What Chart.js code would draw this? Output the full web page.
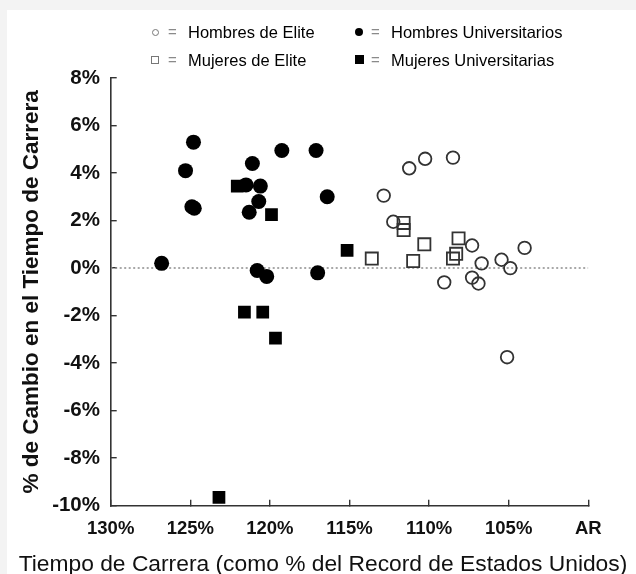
<!DOCTYPE html>
<html lang="es">
<head>
<meta charset="utf-8">
<title>Cambio en el Tiempo de Carrera</title>
<script src="https://cdn.jsdelivr.net/npm/chart.js@4.4.0/dist/chart.umd.min.js"></script>
<style>
  html,body{margin:0;padding:0;background:#f3f3f3;}
  #wrap{position:relative;width:636px;height:574px;overflow:hidden;}
  #panel{position:absolute;left:7px;top:10px;right:0;bottom:0;background:#fff;}
  #chart{position:absolute;left:0;top:0;}
  .lg{position:absolute;font-family:"Liberation Sans",Arial,sans-serif;font-size:16.5px;line-height:20px;color:#000;white-space:nowrap;}
  .eq{color:#8a8a8a;font-size:15px;}
  .mk{position:absolute;box-sizing:border-box;}
  #xtitle{position:absolute;left:0;width:646px;top:550px;text-align:center;font-family:"Liberation Sans",Arial,sans-serif;font-size:22.8px;line-height:26px;color:#111;white-space:nowrap;}
</style>
</head>
<body>
<div id="wrap">
  <div id="panel"></div>
  <canvas id="chart" width="636" height="574"></canvas>

  <!-- legend -->
  <span class="mk" style="left:152px;top:29px;width:7px;height:7px;border:1.5px solid #777;border-radius:50%;"></span>
  <span class="lg eq" style="left:168px;top:22px;">=</span>
  <span class="lg" style="left:188px;top:22px;">Hombres de Elite</span>

  <span class="mk" style="left:355px;top:28px;width:8px;height:8px;background:#000;border-radius:50%;"></span>
  <span class="lg eq" style="left:371px;top:22px;">=</span>
  <span class="lg" style="left:391px;top:22px;">Hombres Universitarios</span>

  <span class="mk" style="left:151px;top:56px;width:8px;height:8px;border:1.5px solid #777;"></span>
  <span class="lg eq" style="left:168px;top:50px;">=</span>
  <span class="lg" style="left:188px;top:50px;">Mujeres de Elite</span>

  <span class="mk" style="left:355px;top:55px;width:9px;height:9px;background:#000;"></span>
  <span class="lg eq" style="left:371px;top:50px;">=</span>
  <span class="lg" style="left:391px;top:50px;">Mujeres Universitarias</span>

  <div id="xtitle">Tiempo de Carrera (como % del Record de Estados Unidos)</div>
</div>

<script>
// valores: x = tiempo como % del record, y = % de cambio
const hombresEliteX = [112.85, 111.25, 110.25, 108.5, 112.25, 107.3, 106.7, 105.45, 104.9, 104.0, 109.05, 107.3, 106.9, 105.1];
const hombresEliteY = [3.05, 4.2, 4.6, 4.65, 1.95, 0.95, 0.2, 0.35, 0.0, 0.85, -0.6, -0.4, -0.65, -3.75];

const hombresUnivX = [124.8, 125.3, 124.9, 124.75, 126.8, 121.1, 121.5, 120.6, 120.7, 121.3, 119.25, 117.1, 116.4, 120.8, 120.2, 117.0];
const hombresUnivY = [5.3, 4.1, 2.58, 2.52, 0.2, 4.4, 3.5, 3.45, 2.8, 2.35, 4.95, 4.95, 3.0, -0.1, -0.35, -0.2];

const mujeresEliteX = [113.6, 111.6, 111.6, 110.3, 111.0, 108.15, 108.3, 108.5];
const mujeresEliteY = [0.4, 1.9, 1.6, 1.0, 0.3, 1.25, 0.6, 0.4];

const mujeresUnivX = [122.05, 119.9, 115.15, 121.6, 120.45, 119.65, 123.2];
const mujeresUnivY = [3.45, 2.25, 0.75, -1.85, -1.85, -2.95, -9.65];

const xTicks = [130, 125, 120, 115, 110, 105, 100];
const yTicks = [8, 6, 4, 2, 0, -2, -4, -6, -8, -10];

(function(){
  const FONT = '"Liberation Sans", Arial, sans-serif';

  function pts(xs, ys){
    return xs.map((x, i) => ({ x: x, y: ys[i] }));
  }

  const datasets = [
    {
      label: 'cero',
      data: [{ x: xTicks[0], y: 0 }, { x: xTicks[xTicks.length - 1], y: 0 }],
      showLine: true, pointRadius: 0,
      borderColor: '#8c8c8c', borderWidth: 1.5, borderDash: [2, 2.5],
      order: 10
    },
    {
      label: 'Hombres de Elite',
      data: pts(hombresEliteX, hombresEliteY),
      pointStyle: 'circle', pointRadius: 6.3, borderWidth: 1.8,
      borderColor: '#333', backgroundColor: 'rgba(0,0,0,0)'
    },
    {
      label: 'Mujeres de Elite',
      data: pts(mujeresEliteX, mujeresEliteY),
      pointStyle: 'rect', pointRadius: 8.6, borderWidth: 1.8,
      borderColor: '#333', backgroundColor: 'rgba(0,0,0,0)'
    },
    {
      label: 'Hombres Universitarios',
      data: pts(hombresUnivX, hombresUnivY),
      pointStyle: 'circle', pointRadius: 7.5, borderWidth: 0,
      borderColor: '#000', backgroundColor: '#000'
    },
    {
      label: 'Mujeres Universitarias',
      data: pts(mujeresUnivX, mujeresUnivY),
      pointStyle: 'rect', pointRadius: 9.0, borderWidth: 0,
      borderColor: '#000', backgroundColor: '#000'
    }
  ];

  new Chart(document.getElementById('chart'), {
    type: 'scatter',
    data: { datasets },
    options: {
      responsive: false,
      animation: false,
      layout: { padding: { left: 0, top: 78, right: 47.7, bottom: 0 } },
      plugins: { legend: { display: false }, tooltip: { enabled: false } },
      scales: {
        x: {
          type: 'linear', reverse: true,
          min: xTicks[xTicks.length - 1], max: xTicks[0],
          border: { color: '#333', width: 1.6 },
          grid: { drawOnChartArea: false, tickLength: -6, color: '#333', lineWidth: 1.4 },
          ticks: {
            stepSize: 5, padding: 18, color: '#111', maxRotation: 0, autoSkip: false,
            font: { family: FONT, size: 18.5, weight: 'bold' },
            callback: v => v === 100 ? 'AR' : v + '%'
          },
          afterFit: s => { s.height = 68.3; }
        },
        y: {
          min: yTicks[yTicks.length - 1], max: yTicks[0],
          border: { color: '#333', width: 1.6 },
          grid: { drawOnChartArea: false, tickLength: -6, color: '#333', lineWidth: 1.4 },
          ticks: {
            stepSize: 2, padding: 16.7, color: '#111',
            font: { family: FONT, size: 20.5, weight: 'bold' },
            callback: v => v + '%'
          },
          title: {
            display: true, text: '% de Cambio en el Tiempo de Carrera', color: '#111',
            font: { family: FONT, size: 22.5, weight: 'bold' },
            padding: { top: 18.5, bottom: 0 }
          },
          afterFit: s => { s.width = 110.7; }
        }
      }
    }
  });
})();
</script>
</body>
</html>
